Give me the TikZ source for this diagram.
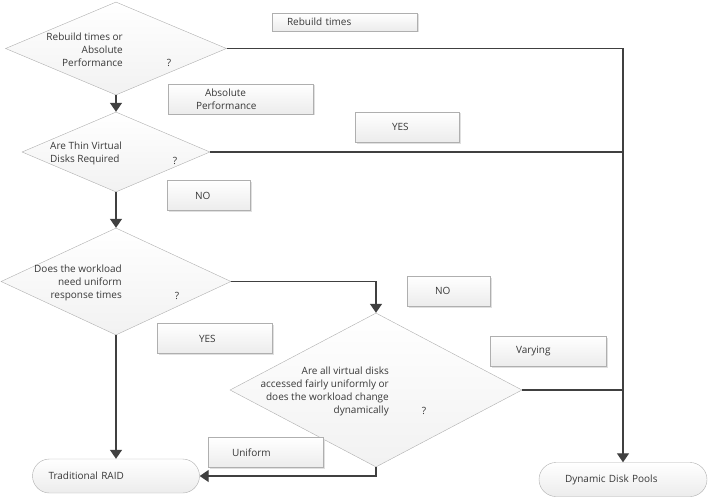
\documentclass[tikz,border=0pt]{standalone}
\usepackage{fontspec}
\setmainfont{Open Sans}
\usepackage{tikz}
\usetikzlibrary{arrows.meta, shapes.geometric, shapes.misc, shadows}

\definecolor{linegray}{HTML}{404040}
\definecolor{edgegray}{HTML}{AFAFAF}
\definecolor{shadebottom}{HTML}{ECECEC}
\definecolor{textgray}{HTML}{383838}

\begin{document}
\begin{tikzpicture}[
  x=1pt, y=-1pt,
  font=\fontsize{10}{13}\selectfont, text=textgray,
  arrow/.style={-{Triangle[width=12pt,length=9pt]}, line width=1.3pt, draw=linegray},
  link/.style={line width=1.3pt, draw=linegray},
  decision/.style={draw=edgegray, diamond, inner sep=0pt, top color=white, bottom color=shadebottom!70},
  tag/.style={draw=edgegray, rectangle, align=left, minimum height=30pt, inner ysep=0pt, top color=white, bottom color=shadebottom, drop shadow={shadow xshift=1.5pt, shadow yshift=-1.5pt, fill=black!12, opacity=1}},
  terminal/.style={draw=edgegray, rounded rectangle, align=left, inner sep=0pt, minimum height=34pt, top color=white, bottom color=shadebottom},
  qtext/.style={inner sep=0pt}
]
  \useasboundingbox (0,0) rectangle (709,500);

  % decisions
  \node[decision, minimum width=221pt, minimum height=93pt] (rebuild) at (116,48.5) {};
  \node[decision, minimum width=188pt, minimum height=80pt] (thin) at (116,152) {};
  \node[decision, minimum width=230pt, minimum height=107pt] (uniform) at (116,281.5) {};
  \node[decision, minimum width=292pt, minimum height=154pt] (access) at (376,390) {};

  % texts in the decisions
  \node[qtext, align=right, anchor=east] (rebuildtxt) at (123,50) {Rebuild times or\\Absolute\\Performance};
  \node[qtext] (rebuildq) at (169,63) {?};
  \node[qtext, align=left, anchor=west] (thintxt) at (50,153.5) {Are Thin Virtual\\Disks Required};
  \node[qtext] (thinq) at (175,160.5) {?};
  \node[qtext, align=right, anchor=east] (uniformtxt) at (122,283) {Does the workload\\need uniform\\response times};
  \node[qtext] (uniformq) at (177,296) {?};
  \node[qtext, align=right, anchor=east] (accesstxt) at (389,391) {Are all virtual disks\\accessed fairly uniformly or\\does the workload change\\dynamically};
  \node[qtext] (accessq) at (424,410.5) {?};

  % end points
  \node[terminal, minimum width=167pt, text width=135pt] (raid) at (116,476) {Traditional RAID};
  \node[terminal, minimum width=168pt, text width=116pt] (ddp) at (623,479.5) {Dynamic Disk Pools};

  % answers
  \node[tag, minimum height=18pt, text width=115pt, inner xsep=15pt] (tagrebuild) at (344.5,22) {Rebuild times};
  \node[tag, text width=89pt, inner xsep=28pt] (tagabsolute) at (240.5,99) {\hspace*{9pt}Absolute\\Performance};
  \node[tag, text width=30pt, inner xsep=37pt] (tagyesa) at (407,127) {YES};
  \node[tag, text width=27pt, inner xsep=28pt] (tagnoa) at (208.5,195.5) {NO};
  \node[tag, text width=27pt, inner xsep=28pt] (tagnob) at (448.5,291) {NO};
  \node[tag, text width=31pt, inner xsep=42pt] (tagyesb) at (214.5,338.5) {YES};
  \node[tag, text width=64pt, inner xsep=26pt] (tagvarying) at (548,351) {Varying};
  \node[tag, text width=67pt, inner xsep=24pt] (taguniform) at (265.5,452.5) {Uniform};

  % connectors
  \draw[arrow] (rebuild.south) -- (thin.north);
  \draw[arrow] (thin.south) -- (uniform.north);
  \draw[arrow] (uniform.south) -- (raid.north);
  \draw[arrow] (uniform.east) -| (access.north);
  \draw[arrow] (access.south) |- (raid.east);
  \draw[arrow] (rebuild.east) -| (ddp.north);
  \draw[link] (thin.east) -- (thin.east -| ddp.north);
  \draw[link] (access.east) -- (access.east -| ddp.north);

\end{tikzpicture}
\end{document}
